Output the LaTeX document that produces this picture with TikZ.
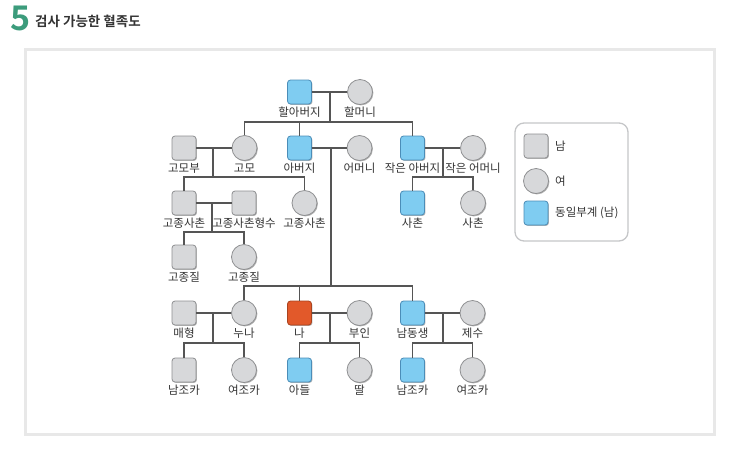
\documentclass[tikz,border=0pt]{standalone}
\usepackage{fontspec}
\usetikzlibrary{shadows}
\setmainfont{Noto Sans CJK KR}
\newfontfamily\krb{Noto Sans CJK KR Bold}
\definecolor{gyf}{HTML}{D7D8DA}
\definecolor{gyd}{HTML}{8E8F91}
\definecolor{blf}{HTML}{7FCCF1}
\definecolor{bld}{HTML}{4B8DB8}
\definecolor{rdf}{HTML}{E2592A}
\definecolor{rdd}{HTML}{A9431F}
\definecolor{lnc}{HTML}{555555}
\definecolor{txc}{HTML}{333333}
\definecolor{frc}{HTML}{E8E8E8}
\definecolor{grn}{HTML}{3C9C7C}
\newcommand\psn[5]{\node[#1] (#2) at (#3,#4) {}; \node[lab] (#2l) at (#3,#4+20) {#5};}
\begin{document}
\begin{tikzpicture}[x=1pt,y=-1pt,
  shd/.style={drop shadow={shadow xshift=0.9pt,shadow yshift=-0.9pt,fill=black,opacity=0.3}},
  sq/.style={rectangle,rounded corners=3pt,minimum size=24pt,inner sep=0pt,fill=gyf,draw=gyd,line width=0.8pt,shd},
  ci/.style={circle,minimum size=25pt,inner sep=0pt,fill=gyf,draw=gyd,line width=0.8pt,shd},
  bsq/.style={sq,fill=blf,draw=bld},
  rsq/.style={sq,fill=rdf,draw=rdd},
  lab/.style={inner sep=0pt,font=\fontsize{11.5}{13}\selectfont,text=txc},
  ln/.style={draw=lnc,line width=1.3pt}]
\useasboundingbox (0,0) rectangle (743,461);
\node[anchor=west,inner sep=0pt,text=grn,font=\krb\fontsize{34}{34}\selectfont] (num) at (10,18.5) {5};
\node[anchor=west,inner sep=0pt,text=txc,font=\krb\fontsize{13.5}{15}\selectfont] (title) at (35,21) {검사 가능한 혈족도};
\draw[frc,line width=3pt] (25.5,49.5) rectangle (714.5,434.5);
% people
\psn{bsq}{gf}{299.5}{92}{할아버지}
\psn{ci}{gm}{360}{92}{할머니}
\psn{sq}{gmb}{184}{148}{고모부}
\psn{ci}{gmo}{244.5}{148}{고모}
\psn{bsq}{fa}{299.5}{148}{아버지}
\psn{ci}{mo}{359.5}{148}{어머니}
\psn{bsq}{ua}{412.5}{148}{작은 아버지}
\psn{ci}{um}{473}{148}{작은 어머니}
\psn{sq}{ca}{184}{203}{고종사촌}
\psn{sq}{caw}{244}{203}{고종사촌형수}
\psn{ci}{cb}{304.5}{203}{고종사촌}
\psn{bsq}{sa}{412.5}{203}{사촌}
\psn{ci}{sb}{473}{203}{사촌}
\psn{sq}{na}{184}{257}{고종질}
\psn{ci}{nb}{244}{257}{고종질}
\psn{sq}{bil}{184}{313}{매형}
\psn{ci}{sis}{244}{313}{누나}
\psn{rsq}{me}{299.5}{313}{나}
\psn{ci}{wife}{359.5}{313}{부인}
\psn{bsq}{bro}{412.5}{313}{남동생}
\psn{ci}{bw}{472.5}{313}{제수}
\psn{sq}{ka}{184}{370}{남조카}
\psn{ci}{kb}{244}{370}{여조카}
\psn{bsq}{kc}{299.5}{370}{아들}
\psn{ci}{kd}{359.5}{370}{딸}
\psn{bsq}{ke}{412.5}{370}{남조카}
\psn{ci}{kf}{472.5}{370}{여조카}
% junctions
\coordinate (j1) at (330,92);   \coordinate (b1) at (330,122);
\coordinate (j2) at (213,148);  \coordinate (b2) at (213,177);
\coordinate (j3) at (331,148);  \coordinate (b3) at (331,286);
\coordinate (j4) at (443,148);  \coordinate (b4) at (443,177);
\coordinate (j5) at (212,203);  \coordinate (b5) at (212,232);
\coordinate (j6) at (213,313);  \coordinate (b6) at (213,343);
\coordinate (j7) at (330,313);  \coordinate (b7) at (330,343);
\coordinate (j8) at (443,313);  \coordinate (b8) at (443,343);
% couples
\draw[ln] (gf) -- (gm) (j1) -- (b1);
\draw[ln] (gmb) -- (gmo) (j2) -- (b2);
\draw[ln] (fa) -- (mo) (j3) -- (b3);
\draw[ln] (ua) -- (um) (j4) -- (b4);
\draw[ln] (ca) -- (caw) (j5) -- (b5);
\draw[ln] (bil) -- (sis) (j6) -- (b6);
\draw[ln] (me) -- (wife) (j7) -- (b7);
\draw[ln] (bro) -- (bw) (j8) -- (b8);
% sibling bars
\draw[ln] (gmo.north) |- (b1) -| (ua.north);
\draw[ln] (fa.north) -- (fa.north |- b1);
\draw[ln] (ca.north) |- (b2) -| (cb.north);
\draw[ln] (sa.north) |- (b4) -| (sb.north);
\draw[ln] (na.north) |- (b5) -| (nb.north);
\draw[ln] (sis.north) |- (b3) -| (bro.north);
\draw[ln] (me.north) -- (me.north |- b3);
\draw[ln] (ka.north) |- (b6) -| (kb.north);
\draw[ln] (kc.north) |- (b7) -| (kd.north);
\draw[ln] (ke.north) |- (b8) -| (kf.north);
% legend
\draw[draw=gyf!80!gray,line width=1.3pt,rounded corners=9pt] (515,123) rectangle (628,241);
\node[sq] (lg1) at (536,146) {};
\node[ci] (lg2) at (536,181) {};
\node[bsq] (lg3) at (536,213) {};
\node[lab,anchor=west] (lt1) at (555,146) {남};
\node[lab,anchor=west] (lt2) at (555,181) {여};
\node[lab,anchor=west] (lt3) at (555,213) {동일부계 (남)};
\end{tikzpicture}
\end{document}
